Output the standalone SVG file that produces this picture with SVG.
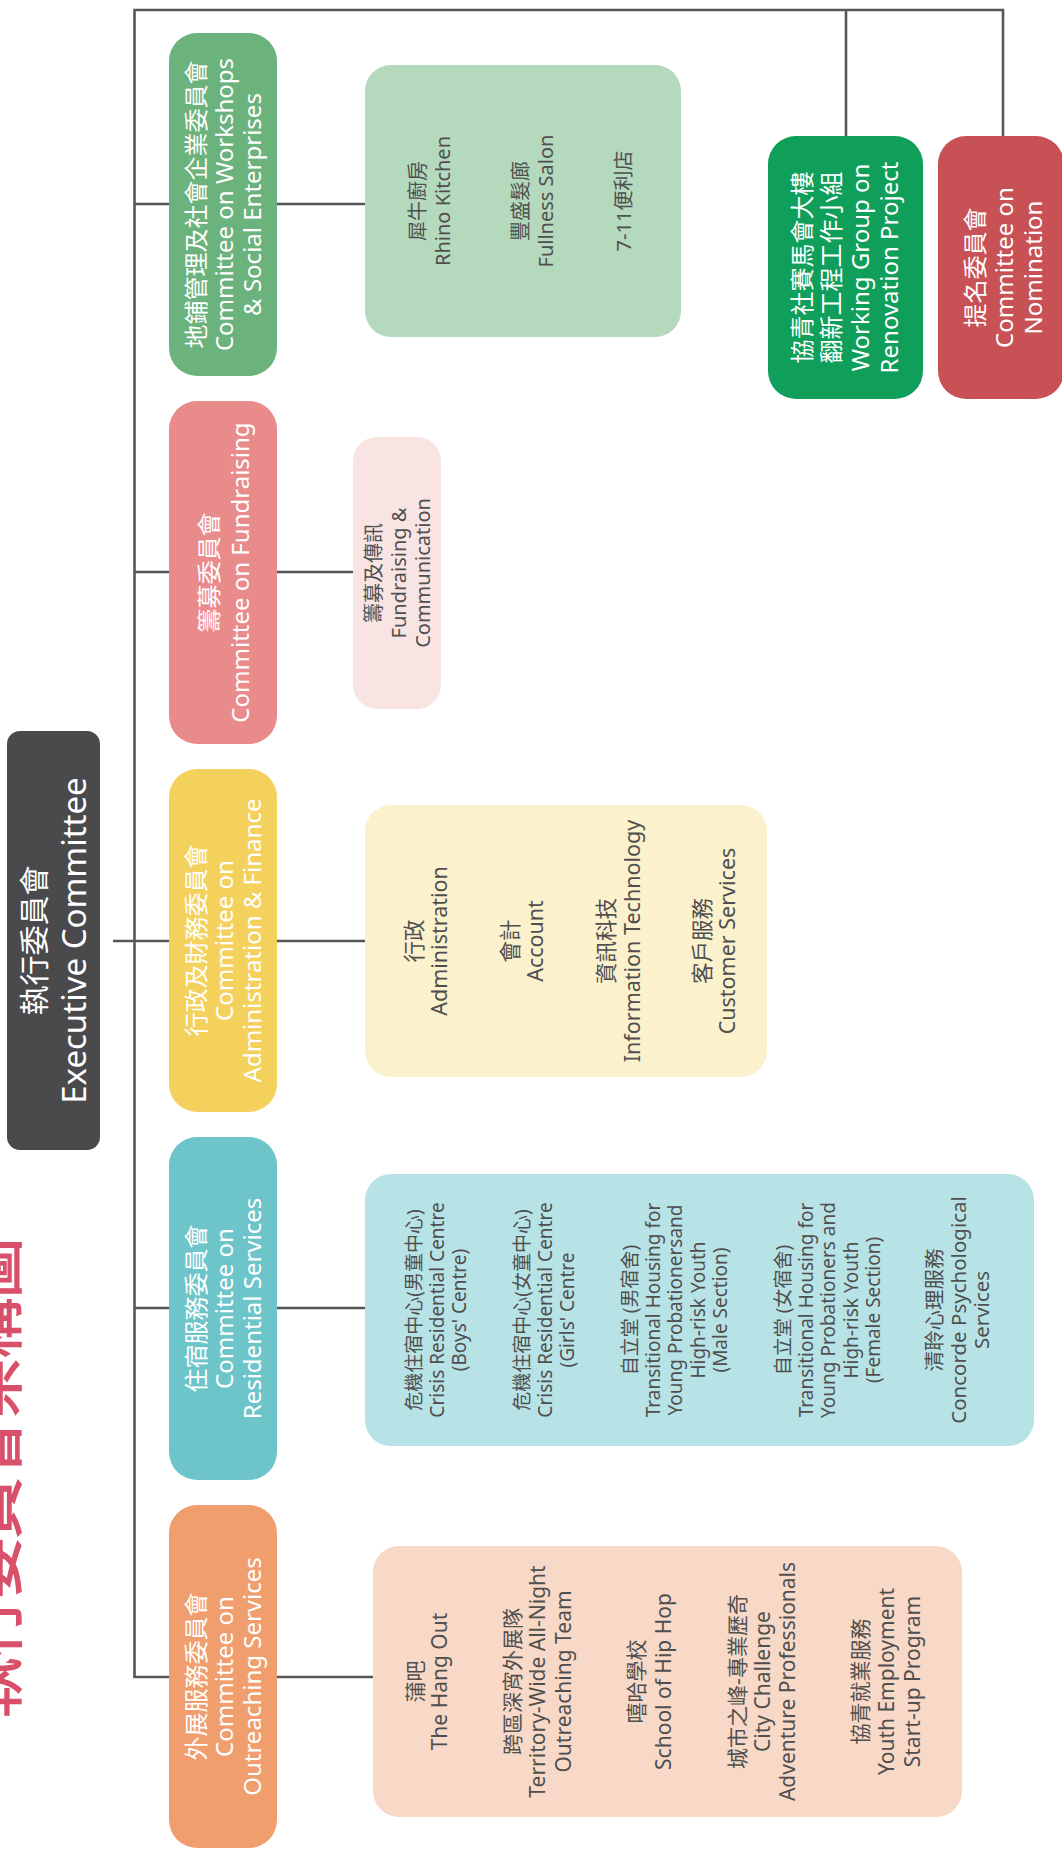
<svg xmlns="http://www.w3.org/2000/svg" width="1062" height="1850" viewBox="0 0 1062 1850">
<style>
.ln{stroke:#575757;stroke-width:2.6;fill:none}
.t{font-family:"Noto Sans","Noto Sans CJK TC",sans-serif;text-anchor:middle;dominant-baseline:central}
.w{fill:#ffffff;font-size:24px}
.d{fill:#4f4f4f}
.s19{font-size:19px}
.s20{font-size:20px}
.s21{font-size:21px}
.s215{font-size:21.5px}
</style>
<rect width="1062" height="1850" fill="#ffffff"/>
<g id="title">
<text transform="translate(16,1238) rotate(-90)" font-family="'Noto Sans CJK TC',sans-serif" font-size="60" fill="#d9506a" stroke="#d9506a" stroke-width="1.4" text-anchor="end">執行委員會架構圖</text>
</g>
<g id="connectors">
<path class="ln" d="M134.5 10 V1677 M133.3 10 H1003 V136 M846 10 V136"/>
<path class="ln" d="M134.5 204 H170 M277 204 H365"/>
<path class="ln" d="M134.5 572 H170 M277 572 H353"/>
<path class="ln" d="M113 941 H170 M277 941 H365"/>
<path class="ln" d="M134.5 1308 H170 M277 1308 H365"/>
<path class="ln" d="M133.3 1677 H170 M277 1677 H373"/>
</g>
<g id="exec">
<rect x="7" y="731" width="93" height="419" rx="13" fill="#4a4a4c"/>
<g transform="translate(53.5,940.5) rotate(-90)">
<text class="t" y="-20" fill="#fff" font-size="30">執行委員會</text>
<text class="t" y="20" fill="#fff" font-size="33">Executive Committee</text>
</g>
</g>
<g id="c-workshops">
<rect x="169" y="33" width="108" height="343" rx="28" fill="#6bb27c"/>
<g transform="translate(223,204.5) rotate(-90)">
<text class="t w" y="-28">地鋪管理及社會企業委員會</text>
<text class="t w" y="0">Committee on Workshops</text>
<text class="t w" y="28">&amp; Social Enterprises</text>
</g>
</g>
<g id="c-fundraising">
<rect x="169" y="401" width="108" height="343" rx="28" fill="#e98b8b"/>
<g transform="translate(223,572.5) rotate(-90)">
<text class="t w" y="-15">籌募委員會</text>
<text class="t w" y="16">Committee on Fundraising</text>
</g>
</g>
<g id="c-admin">
<rect x="169" y="769" width="108" height="343" rx="28" fill="#f4d15d"/>
<g transform="translate(223,940.5) rotate(-90)">
<text class="t w" y="-28">行政及財務委員會</text>
<text class="t w" y="0">Committee on</text>
<text class="t w" y="28">Administration &amp; Finance</text>
</g>
</g>
<g id="c-residential">
<rect x="169" y="1137" width="108" height="343" rx="28" fill="#6dc5ca"/>
<g transform="translate(223,1308.5) rotate(-90)">
<text class="t w" y="-28">住宿服務委員會</text>
<text class="t w" y="0">Committee on</text>
<text class="t w" y="28">Residential Services</text>
</g>
</g>
<g id="c-outreaching">
<rect x="169" y="1505" width="108" height="343" rx="28" fill="#f09e6d"/>
<g transform="translate(223,1676.5) rotate(-90)">
<text class="t w" y="-28">外展服務委員會</text>
<text class="t w" y="0">Committee on</text>
<text class="t w" y="28">Outreaching Services</text>
</g>
</g>
<g id="s-workshops">
<rect x="365" y="65" width="316" height="272" rx="26" fill="#b4d9bd"/>
<g transform="translate(523,201) rotate(-90)">
<text class="t d s20" y="-106">犀牛廚房</text>
<text class="t d s20" y="-81">Rhino Kitchen</text>
<text class="t d s20" y="-3">豐盛髮廊</text>
<text class="t d s20" y="22">Fullness Salon</text>
<text class="t d s20" y="100">7-11便利店</text>
</g>
</g>
<g id="s-fundraising">
<rect x="353" y="437" width="88" height="272" rx="24" fill="#f9e4e4"/>
<g transform="translate(397,573) rotate(-90)">
<text class="t d s20" y="-24">籌募及傳訊</text>
<text class="t d s20" y="1">Fundraising &amp;</text>
<text class="t d s20" y="25">Communication</text>
</g>
</g>
<g id="s-admin">
<rect x="365" y="805" width="402" height="272" rx="26" fill="#fcf1cd"/>
<g transform="translate(566,941) rotate(-90)">
<text class="t d s215" y="-153">行政</text>
<text class="t d s215" y="-128">Administration</text>
<text class="t d s215" y="-57">會計</text>
<text class="t d s215" y="-32">Account</text>
<text class="t d s215" y="39">資訊科技</text>
<text class="t d s215" y="65">Information Technology</text>
<text class="t d s215" y="135">客戶服務</text>
<text class="t d s215" y="160">Customer Services</text>
</g>
</g>
<g id="s-residential">
<rect x="365" y="1174" width="669" height="272" rx="26" fill="#b8e3e6"/>
<g transform="translate(700,1310) rotate(-90)">
<text class="t d s19" y="-286">危機住宿中心(男童中心)</text>
<text class="t d s19" y="-263.4">Crisis Residential Centre</text>
<text class="t d s19" y="-240.8">(Boys' Centre)</text>
<text class="t d s19" y="-178">危機住宿中心(女童中心)</text>
<text class="t d s19" y="-155.4">Crisis Residential Centre</text>
<text class="t d s19" y="-132.8">(Girls' Centre</text>
<text class="t d s19" y="-70">自立堂 (男宿舍)</text>
<text class="t d s19" y="-47.4">Transitional Housing for</text>
<text class="t d s19" y="-24.8">Young Probationersand</text>
<text class="t d s19" y="-2.2">High-risk Youth</text>
<text class="t d s19" y="20.4">(Male Section)</text>
<text class="t d s19" y="83">自立堂 (女宿舍)</text>
<text class="t d s19" y="105.6">Transitional Housing for</text>
<text class="t d s19" y="128.2">Young Probationers and</text>
<text class="t d s19" y="150.8">High-risk Youth</text>
<text class="t d s19" y="173.4">(Female Section)</text>
<text class="t d" font-size="20.5" y="234">清聆心理服務</text>
<text class="t d" font-size="20.5" y="257.6">Concorde Psychological</text>
<text class="t d" font-size="20.5" y="281">Services</text>
</g>
</g>
<g id="s-outreaching">
<rect x="373" y="1546" width="589" height="271" rx="26" fill="#f8d9c7"/>
<g transform="translate(667,1681.5) rotate(-90)">
<text class="t d s21" y="-252">蒲吧</text>
<text class="t d s21" y="-228">The Hang Out</text>
<text class="t d s21" y="-155">跨區深宵外展隊</text>
<text class="t d s21" y="-130">Territory-Wide All-Night</text>
<text class="t d s21" y="-104">Outreaching Team</text>
<text class="t d s21" y="-31">嘻哈學校</text>
<text class="t d s21" y="-4">School of Hip Hop</text>
<text class="t d s21" y="70">城市之峰-專業歷奇</text>
<text class="t d s21" y="95">City Challenge</text>
<text class="t d s21" y="120">Adventure Professionals</text>
<text class="t d s21" y="193">協青就業服務</text>
<text class="t d s21" y="219">Youth Employment</text>
<text class="t d s21" y="245">Start-up Program</text>
</g>
</g>
<g id="n-renovation">
<rect x="768" y="136" width="155" height="263" rx="28" fill="#109e5b"/>
<g transform="translate(845.5,267.5) rotate(-90)">
<text class="t w" y="-44">協青社賽馬會大樓</text>
<text class="t w" y="-15">翻新工程工作小組</text>
<text class="t w" y="14">Working Group on</text>
<text class="t w" y="43">Renovation Project</text>
</g>
</g>
<g id="n-nomination">
<rect x="938" y="136" width="126" height="263" rx="28" fill="#c85155"/>
<g transform="translate(1003,267.5) rotate(-90)">
<text class="t w" y="-29">提名委員會</text>
<text class="t w" y="0">Committee on</text>
<text class="t w" y="29">Nomination</text>
</g>
</g>
</svg>
